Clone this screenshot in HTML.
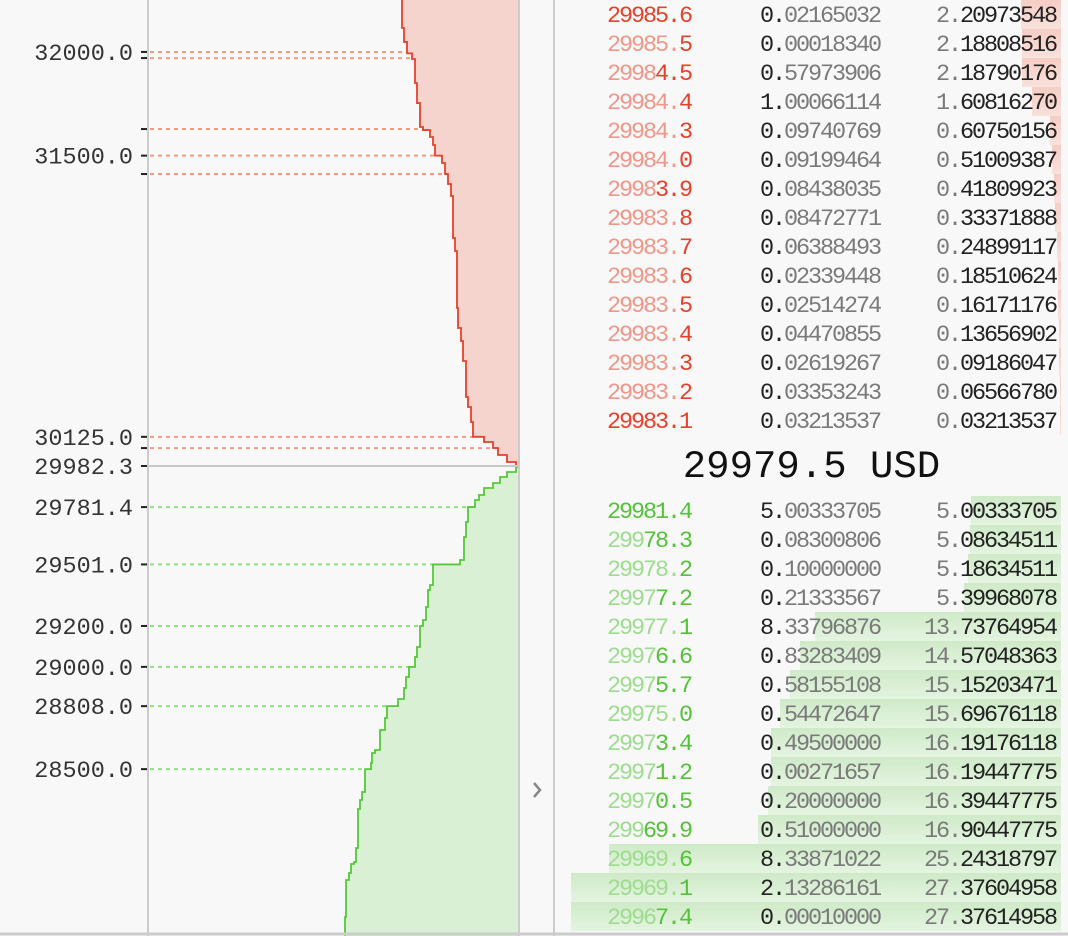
<!DOCTYPE html>
<html><head><meta charset="utf-8">
<style>
html,body{margin:0;padding:0;background:#f8f8f8;}
#root{position:relative;width:1068px;height:936px;overflow:hidden;background:#f8f8f8;font-family:"Liberation Mono",monospace;}
.row{position:absolute;left:555px;width:513px;height:29px;}
.bar{position:absolute;top:0;height:29px;}
.ask .bar{background:linear-gradient(#f5cdc4,#f8e2dc);}
.bid .bar{background:linear-gradient(#cfeac8,#e4f4e0);}
.txt{position:absolute;top:2px;line-height:29px;font-size:23.5px;letter-spacing:-2.1px;white-space:pre;}
.price{left:52px;}
.amt{right:188px;text-align:right;}
.tot{right:12px;text-align:right;}
.dk{color:#222;} .gr{color:#7a7a7a;}
.ask .hi{color:#e8402a;} .ask .fd{color:#f0978a;}
.bid .hi{color:#55c23a;} .bid .fd{color:#9edc8f;}
</style></head>
<body>
<div id="root">
<svg id="chart" width="1068" height="936" style="position:absolute;left:0;top:0">
</svg>
<svg width="20" height="24" style="position:absolute;left:528px;top:778px"><polyline points="6,5 12,12 6,19" fill="none" stroke="#888" stroke-width="2.5"/></svg>
<div id="book"></div>
<div style="position:absolute;left:555px;width:513px;top:446px;height:42px;line-height:42px;text-align:center;font-size:39px;color:#111;font-family:'Liberation Mono',monospace;">29979.5 USD</div>
</div>
<script>
// ---- depth chart data ----
const midPrice = 29982.3;
const askStepPrices = [29982.3,30001.9,30036.1,30070.3,30099.7,30125,30197.5,30270.8,30319.7,30495.8,30593.6,30657.1,30754.9,31033.7,31097.2,31302.6,31361.3,31410.2,31464,31500,31552,31591,31625,31640,31757,31855,31972.5,32000,32056,32124];
const askStepDepths = [2.5,13.75,25,31.25,42.5,56.25,58.75,62.5,65,68.75,71.25,75,76.25,78.75,81.25,83.75,87.5,91.25,95,103.75,106.25,110,118.75,122.5,126.25,128.75,132.5,138.75,142.5,145];
const bidStepPrices = [29977.4,29953,29928.5,29899.2,29874.7,29840.5,29816,29781.4,29708.5,29635.1,29522.6,29501,29400.4,29375.9,29292.8,29229.2,29200,29097.2,29048.3,29000,28950.5,28896.7,28842.9,28808,28750,28691.3,28593.5,28578.9,28530,28500,28388.2,28349.1,28305.1,28114.3,28045.9,28036.1,27992.1,27957.9,27777];
const bidStepDepths = [2.5,13.75,22.5,31.25,42.5,48.75,53.75,62.5,65,67.5,72.5,106.25,110,112.5,115,118.75,122.5,126.25,128.75,136.25,140,142.5,150,163.75,166.25,172.5,178.75,182.5,183.75,191.25,195,197.5,200,202.5,205,208.75,211.25,215,216.25];
const askLevelPrices = [32007,31977,31630,31500,31410,30125,30070];
const askLevelLabels = ["32000.0","","","31500.0","","30125.0",""];
const bidLevelPrices = [29781.4,29501,29200,29000,28808,28500];
const bidLevelLabels = ["29781.4","29501.0","29200.0","29000.0","28808.0","28500.0"];

// ---- order book data ----
const askPrices = ["29985.6","29985.5","29984.5","29984.4","29984.3","29984.0","29983.9","29983.8","29983.7","29983.6","29983.5","29983.4","29983.3","29983.2","29983.1"];
const askAmounts = ["0.02165032","0.00018340","0.57973906","1.00066114","0.09740769","0.09199464","0.08438035","0.08472771","0.06388493","0.02339448","0.02514274","0.04470855","0.02619267","0.03353243","0.03213537"];
const askTotals = ["2.20973548","2.18808516","2.18790176","1.60816270","0.60750156","0.51009387","0.41809923","0.33371888","0.24899117","0.18510624","0.16171176","0.13656902","0.09186047","0.06566780","0.03213537"];
const bidPrices = ["29981.4","29978.3","29978.2","29977.2","29977.1","29976.6","29975.7","29975.0","29973.4","29971.2","29970.5","29969.9","29969.6","29969.1","29967.4"];
const bidAmounts = ["5.00333705","0.08300806","0.10000000","0.21333567","8.33796876","0.83283409","0.58155108","0.54472647","0.49500000","0.00271657","0.20000000","0.51000000","8.33871022","2.13286161","0.00010000"];
const bidTotals = ["5.00333705","5.08634511","5.18634511","5.39968078","13.73764954","14.57048363","15.15203471","15.69676118","16.19176118","16.19447775","16.39447775","16.90447775","25.24318797","27.37604958","27.37614958"];

const NS="http://www.w3.org/2000/svg";
const svg=document.getElementById('chart');
const yP=p=>466-(p-midPrice)*0.2045;
const xD=d=>518-d*0.8;
function mk(tag,attrs,parent){const e=document.createElementNS(NS,tag);for(const k in attrs)e.setAttribute(k,attrs[k]);(parent||svg).appendChild(e);return e;}

let ad=`M518,${yP(midPrice)}`;
for(let i=0;i<askStepPrices.length;i++){
  ad+=` V${yP(askStepPrices[i])} H${xD(askStepDepths[i])}`;
}
ad+=` V0`;
const askFill=mk('path',{d:ad+' H518 Z',fill:'#f4d4cc',stroke:'none'});


let bd=`M518,${yP(midPrice)}`;
for(let i=0;i<bidStepPrices.length;i++){
  bd+=` V${yP(bidStepPrices[i])} H${xD(bidStepDepths[i])}`;
}
bd+=` V936`;
const bidFill=mk('path',{d:bd+' H518 Z',fill:'#d9f0d4',stroke:'none'});



function depthAt(prices,depths,p,isAsk){
  let d=0;
  for(let i=0;i<prices.length;i++){ if(isAsk?prices[i]<=p:prices[i]>=p) d=depths[i]; }
  return d;
}
function levels(prices,labels,steps,depths,isAsk,color){
  prices.forEach((p,i)=>{
    const y=yP(p);
    const l=mk('line',{x1:150,x2:xD(depthAt(steps,depths,p,isAsk)),y1:y,y2:y,stroke:color,'stroke-width':2,'stroke-dasharray':'4,4'});
    
    
    const t=mk('line',{x1:141,x2:148,y1:y,y2:y,stroke:'#222','stroke-width':2});
    
    
    if(labels[i]){
      const tx=mk('text',{x:133,y:y+8,'text-anchor':'end','font-family':'Liberation Mono, monospace','font-size':23.5,fill:'#333'});
      tx.textContent=labels[i];
      
      
    }
  });
}
levels(askLevelPrices,askLevelLabels,askStepPrices,askStepDepths,true,'#f39a85');
levels(bidLevelPrices,bidLevelLabels,bidStepPrices,bidStepDepths,false,'#8fe080');

const askLine=mk('path',{d:ad,fill:'none',stroke:'#e8402a','stroke-width':1.8});


const bidLine=mk('path',{d:bd,fill:'none',stroke:'#55c83a','stroke-width':1.8});



const ml=mk('line',{x1:148,x2:518,y1:yP(midPrice),y2:yP(midPrice),stroke:'#c8c8c8','stroke-width':2});


const mt=mk('line',{x1:141,x2:148,y1:yP(midPrice),y2:yP(midPrice),stroke:'#222','stroke-width':2});


const mlab=mk('text',{x:133,y:yP(midPrice)+8,'text-anchor':'end','font-family':'Liberation Mono, monospace','font-size':23.5,fill:'#333'});
mlab.textContent=midPrice.toFixed(1);


const ax=mk('line',{x1:148,x2:148,y1:0,y2:936,stroke:'#cccccc','stroke-width':2});


const b1=mk('line',{x1:519,x2:519,y1:0,y2:936,stroke:'#cccccc','stroke-width':2});


const b2=mk('line',{x1:554,x2:554,y1:0,y2:936,stroke:'#cccccc','stroke-width':2});


const b3=mk('line',{x1:0,x2:1068,y1:934,y2:934,stroke:'#cccccc','stroke-width':3});



// ---- order book ----
const book=document.getElementById('book');
const barScale=17.9;
function commonPrefix(a,b){let i=0;while(i<a.length&&i<b.length&&a[i]===b[i])i++;return i;}
function buildRows(prices,amts,tots,side,top0){
  prices.forEach((p,i)=>{
    const r=document.createElement('div');
    r.className='row '+side;
    
    
    r.style.top=(top0+i*29)+'px';
    const bar=document.createElement('div');
    bar.className='bar';
    
    
    const w=Math.min(parseFloat(tots[i])*barScale,491);
    bar.style.right='7px';bar.style.width=w+'px';
    r.appendChild(bar);
    let fade=0;
    if(i>0 && !(side==='ask'&&i===prices.length-1)) fade=commonPrefix(p,prices[i-1]);
    const pr=document.createElement('div');pr.className='txt price';
    
    
    pr.innerHTML=`<span class="fd">${p.slice(0,fade)}</span><span class="hi">${p.slice(fade)}</span>`;
    r.appendChild(pr);
    const a=amts[i],ai=a.indexOf('.')+1;
    const am=document.createElement('div');am.className='txt amt';
    
    
    am.innerHTML=`<span class="dk">${a.slice(0,ai)}</span><span class="gr">${a.slice(ai)}</span>`;
    r.appendChild(am);
    const t=tots[i],ti=t.indexOf('.')+1;
    const to=document.createElement('div');to.className='txt tot';
    
    
    to.innerHTML=`<span class="gr">${t.slice(0,ti)}</span><span class="dk">${t.slice(ti)}</span>`;
    r.appendChild(to);
    book.appendChild(r);
  });
}
buildRows(askPrices,askAmounts,askTotals,'ask',0);
buildRows(bidPrices,bidAmounts,bidTotals,'bid',496);
</script>
</body></html>
